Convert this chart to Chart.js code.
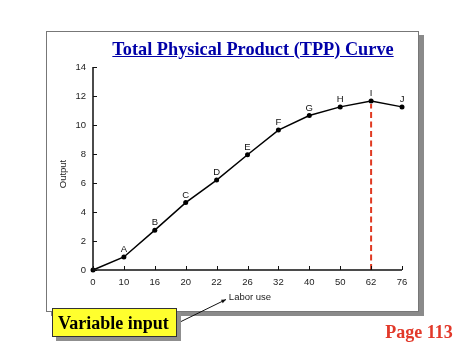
<!DOCTYPE html>
<html>
<head>
<meta charset="utf-8">
<script src="https://cdn.jsdelivr.net/npm/chart.js@4.4.1/dist/chart.umd.min.js"></script>
<style>
  html, body { margin: 0; padding: 0; background: #fff; }
  #wrap { position: relative; width: 474px; height: 355px; overflow: hidden; background: #fff; }
  #frame { position: absolute; left: 46px; top: 31px; width: 371px; height: 279px;
           border: 1.5px solid #777; background: #fff; box-shadow: 5px 4px 0 #8a8a8a; }
  #title { position: absolute; left: 0; width: 506px; top: 39px; text-align: center;
           font: bold 18.3px "Liberation Serif", "Times New Roman", serif; color: #0000a8;
           text-decoration: underline; white-space: nowrap; }
  #c { position: absolute; left: 0; top: 0; }
  #varbox { position: absolute; left: 52px; top: 308px; width: 125px; height: 29px;
            background: #ffff2e; border: 1px solid #333; box-shadow: 4px 4px 0 #8f8f8f;
            font: bold 18px "Liberation Serif", "Times New Roman", serif; color: #000;
            line-height: 28px; padding-left: 5px; box-sizing: border-box; white-space: nowrap; }
  #page { position: absolute; left: 384px; top: 322px; width: 70px; text-align: center;
          font: bold 18px "Liberation Serif", "Times New Roman", serif; color: #e2392a; white-space: nowrap; }
</style>
</head>
<body>
<div id="wrap">
  <div id="frame"></div>
  <canvas id="c" width="474" height="355"></canvas>
  <div id="title">Total Physical Product (TPP) Curve</div>
  <div id="varbox">Variable input</div>
  <div id="page">Page 113</div>
</div>
<script>
const laborUse = ['0', '10', '16', '20', '22', '26', '32', '40', '50', '62', '76'];
const output = [0, 0.9, 2.75, 4.65, 6.2, 7.95, 9.65, 10.65, 11.25, 11.65, 11.25];
const pointLabels = ['', 'A', 'B', 'C', 'D', 'E', 'F', 'G', 'H', 'I', 'J'];
const yTicks = [0, 2, 4, 6, 8, 10, 12, 14];
const maxIndex = 9; // point I

const decor = {
  id: 'decor',
  afterDatasetsDraw(chart) {
    const ctx = chart.ctx;
    const xs = chart.scales.x, ys = chart.scales.y;
    const ca = chart.chartArea;
    ctx.save();
    // dashed line at I
    const xi = xs.getPixelForValue(maxIndex);
    const yi = ys.getPixelForValue(output[maxIndex]);
    ctx.strokeStyle = '#e03a22';
    ctx.lineWidth = 2;
    ctx.setLineDash([6, 3.5]);
    ctx.beginPath();
    ctx.moveTo(xi, ys.getPixelForValue(0));
    ctx.lineTo(xi, yi + 3);
    ctx.stroke();
    ctx.setLineDash([]);
    // axes
    ctx.strokeStyle = '#111';
    ctx.lineWidth = 1.5;
    ctx.beginPath();
    ctx.moveTo(ca.left, ys.getPixelForValue(14));
    ctx.lineTo(ca.left, ca.bottom);
    ctx.lineTo(xs.getPixelForValue(laborUse.length - 1), ca.bottom);
    ctx.stroke();
    ctx.lineWidth = 1;
    ctx.beginPath();
    yTicks.forEach(v => {
      const y = Math.round(ys.getPixelForValue(v)) + 0.5;
      ctx.moveTo(ca.left, y); ctx.lineTo(ca.left + 4, y);
    });
    laborUse.forEach((l, i) => {
      const x = Math.round(xs.getPixelForValue(i)) + 0.5;
      ctx.moveTo(x, ca.bottom); ctx.lineTo(x, ca.bottom - 4);
    });
    ctx.stroke();
    // point labels
    ctx.fillStyle = '#111';
    ctx.font = '9.5px "Liberation Sans", Arial, sans-serif';
    ctx.textAlign = 'center';
    ctx.textBaseline = 'alphabetic';
    pointLabels.forEach((t, i) => {
      if (!t) return;
      const x = xs.getPixelForValue(i);
      const y = ys.getPixelForValue(output[i]);
      ctx.fillText(t, x, y - 5);
    });
    // axis titles
    ctx.fillStyle = '#222';
    ctx.fillText('Labor use', 250, 300);
    ctx.save();
    ctx.translate(66, 174);
    ctx.rotate(-Math.PI / 2);
    ctx.fillText('Output', 0, 0);
    ctx.restore();
    // arrow
    ctx.strokeStyle = '#111';
    ctx.fillStyle = '#111';
    ctx.lineWidth = 1;
    const x1 = 178, y1 = 323, x2 = 226, y2 = 299.5;
    ctx.beginPath();
    ctx.moveTo(x1, y1); ctx.lineTo(x2, y2); ctx.stroke();
    const ang = Math.atan2(y2 - y1, x2 - x1);
    ctx.beginPath();
    ctx.moveTo(x2, y2);
    ctx.lineTo(x2 - 5 * Math.cos(ang - 0.4), y2 - 5 * Math.sin(ang - 0.4));
    ctx.lineTo(x2 - 5 * Math.cos(ang + 0.4), y2 - 5 * Math.sin(ang + 0.4));
    ctx.closePath(); ctx.fill();
    ctx.restore();
  }
};

new Chart(document.getElementById('c'), {
  type: 'line',
  data: {
    labels: laborUse,
    datasets: [{
      data: output,
      borderColor: '#000',
      backgroundColor: '#000',
      borderWidth: 1.5,
      pointRadius: 2.5,
      pointHoverRadius: 2.5,
      pointBackgroundColor: '#000',
      pointBorderWidth: 0,
      tension: 0,
      fill: false,
      clip: false
    }]
  },
  options: {
    responsive: false,
    animation: false,
    events: [],
    layout: { padding: { left: 0, right: 72, top: 67, bottom: 0 } },
    plugins: { legend: { display: false }, tooltip: { enabled: false }, title: { display: false } },
    scales: {
      x: {
        type: 'category',
        offset: false,
        grid: { display: false, drawTicks: false },
        border: { display: false },
        ticks: { color: '#222', font: { family: '"Liberation Sans", Arial, sans-serif', size: 9.5 },
                 padding: 7, maxRotation: 0, autoSkip: false },
        afterFit(s) { s.height = 85; }
      },
      y: {
        type: 'linear',
        min: 0, max: 14,
        grid: { display: false, drawTicks: false },
        border: { display: false },
        ticks: { stepSize: 2, color: '#222', font: { family: '"Liberation Sans", Arial, sans-serif', size: 9.5 },
                 padding: 7 },
        afterFit(s) { s.width = 93; }
      }
    }
  },
  plugins: [decor]
});
</script>
</body>
</html>
